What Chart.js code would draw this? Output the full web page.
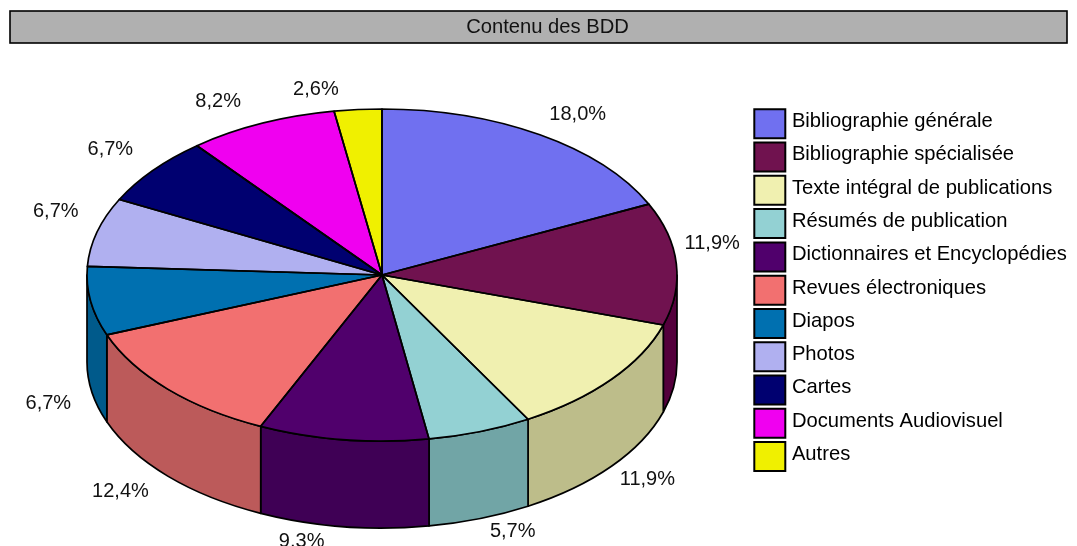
<!DOCTYPE html>
<html><head><meta charset="utf-8">
<script src="https://cdn.jsdelivr.net/npm/chart.js@4/dist/chart.umd.min.js"></script>
<style>html,body{margin:0;padding:0;background:#fff}canvas{display:block}</style>
</head><body><canvas id="c" width="1077" height="546"></canvas>
<script>
const titleText = 'Contenu des BDD';
const categories = ['Bibliographie générale','Bibliographie spécialisée','Texte intégral de publications','Résumés de publication','Dictionnaires et Encyclopédies','Revues électroniques','Diapos','Photos','Cartes','Documents Audiovisuel','Autres'];
const values = [18.0,11.9,11.9,5.7,9.3,12.4,6.7,6.7,6.7,8.2,2.6];
const valueLabels = ['18,0%','11,9%','11,9%','5,7%','9,3%','12,4%','6,7%','6,7%','6,7%','8,2%','2,6%'];
const topColors = ['#7070F0','#70124F','#F0F0B0','#93D1D3','#50006C','#F27070','#0070B0','#B0B0F0','#000070','#F000F0','#F0F000'];
const wallColors = ['#5858BC','#54003C','#BDBD8A','#71A5A6','#3F0055','#BC5A5A','#005A8B','#8A8ABC','#000058','#BC00BC','#BCBC00'];
const labelNudgeX = [11,-14,-3,16,-35,-11,7,7,-4,-23,-38];
const labelNudgeY = [-3.5,-18.5,0.5,-5.5,-5,2,12,-15,-8,-4,-0.5];

const P = {cx:382, cy:275, rx:295, ry:166, depth:87, lw:1.7, labelRx:345, labelRy:186};

function wallRange(el){
  const s = Math.max(el.startAngle,0), e = Math.min(el.endAngle,Math.PI);
  return s<e ? [s,e] : null;
}
const pie3d = {
  id:'pie3d',
  beforeDraw(chart){
    const c = chart.ctx;
    c.save();
    c.fillStyle='#B0B0B0'; c.strokeStyle='#000'; c.lineWidth=1.6;
    c.fillRect(10,11,1057,32); c.strokeRect(10,11,1057,32);
    c.restore();
    const lg = chart.legend;
    if(!lg.__wrapped){
      lg.__wrapped = true;
      const orig = lg.draw;
      lg.draw = function(){
        const proto = CanvasRenderingContext2D.prototype.fillText;
        c.fillText = function(t,x,y){ proto.call(this,t,x-3.5,y-2.2); };
        orig.apply(this,arguments);
        delete c.fillText;
      };
    }
  },
  afterLayout(chart){
    const lg = chart.legend;
    const pad = lg.options.labels.padding;
    lg.left = 754.3 - pad; lg.right = lg.left + lg.width;
    lg.top = 109.3 - pad; lg.bottom = lg.top + lg.height;
    lg.adjustHitBoxes && lg.adjustHitBoxes();
  },
  beforeDatasetsDraw(chart){
    const c = chart.ctx, arcs = chart.getDatasetMeta(0).data;
    c.save();
    c.lineJoin='round';
    arcs.forEach((el,i)=>{
      const r = wallRange(el); if(!r) return;
      c.beginPath();
      c.ellipse(P.cx,P.cy,P.rx,P.ry,0,r[0],r[1]);
      c.ellipse(P.cx,P.cy+P.depth,P.rx,P.ry,0,r[1],r[0],true);
      c.closePath();
      c.fillStyle = wallColors[i]; c.fill();
      c.strokeStyle='#000'; c.lineWidth=P.lw; c.stroke();
    });
    c.restore();
  },
  beforeDatasetDraw(chart){
    const c = chart.ctx, el = chart.getDatasetMeta(0).data[0];
    c.save();
    c.translate(P.cx,P.cy);
    c.scale(P.rx/el.outerRadius,P.ry/el.outerRadius);
    c.translate(-el.x,-el.y);
  },
  afterDatasetDraw(chart){ chart.ctx.restore(); },
  afterDatasetsDraw(chart){
    const c = chart.ctx, arcs = chart.getDatasetMeta(0).data;
    c.save();
    c.strokeStyle='#000'; c.lineWidth=P.lw; c.lineJoin='round';
    arcs.forEach(el=>{
      c.beginPath();
      c.moveTo(P.cx,P.cy);
      c.ellipse(P.cx,P.cy,P.rx,P.ry,0,el.startAngle,el.endAngle);
      c.closePath();
      c.stroke();
    });
    c.fillStyle='#111'; c.font='20px "Liberation Sans"'; c.textAlign='center'; c.textBaseline='middle';
    arcs.forEach((el,i)=>{
      const a=(el.startAngle+el.endAngle)/2, s=Math.sin(a);
      const x=P.cx+P.labelRx*Math.cos(a)+labelNudgeX[i];
      const y=P.cy+P.labelRy*s+(s>0?P.depth:0)+labelNudgeY[i];
      c.fillText(valueLabels[i],x,y);
    });
    c.restore();
  }
};

new Chart(document.getElementById('c'),{
  type:'pie',
  data:{labels:categories,datasets:[{data:values,backgroundColor:topColors,borderWidth:0}]},
  plugins:[pie3d],
  options:{
    responsive:false,animation:false,
    layout:{padding:{left:18}},
    plugins:{
      tooltip:{enabled:false},
      title:{display:true,text:titleText,color:'#111',font:{family:'"Liberation Sans"',size:20.2,weight:'normal'},padding:{top:15,bottom:15}},
      legend:{
        display:true,position:'right',align:'start',
        labels:{
          boxWidth:31,boxHeight:29,padding:4.27,color:'#111',
          font:{family:'"Liberation Sans"',size:20.2},
          generateLabels:()=>categories.map((t,i)=>({text:t,fillStyle:topColors[i],strokeStyle:'#000',lineWidth:2,hidden:false,index:i}))
        }
      }
    }
  }
});
</script></body></html>
